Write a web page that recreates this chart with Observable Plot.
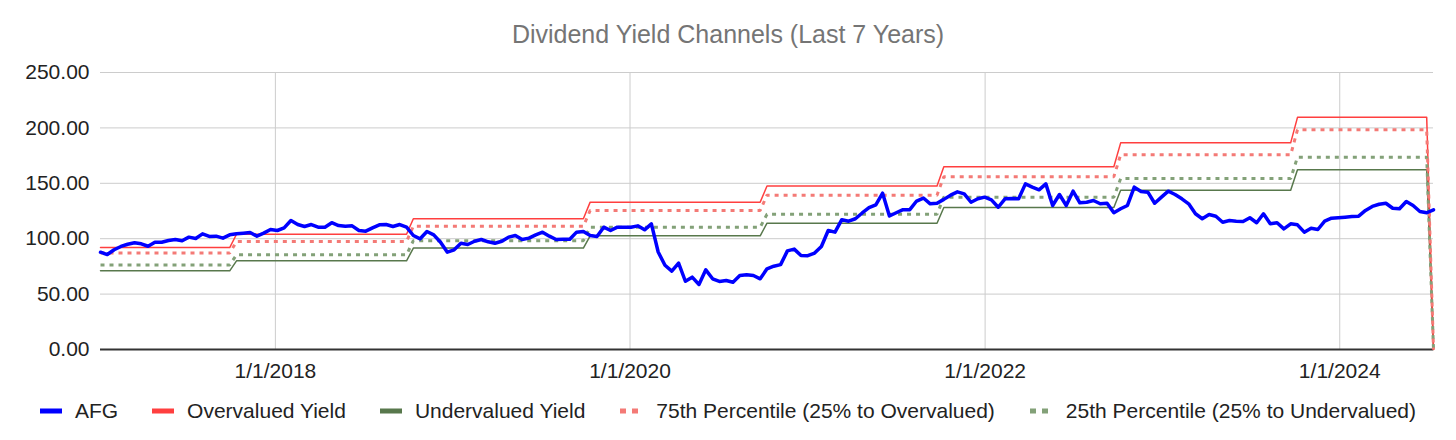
<!DOCTYPE html>
<html>
<head>
<meta charset="utf-8">
<script src="https://cdn.jsdelivr.net/npm/d3@7"></script>
<script src="https://cdn.jsdelivr.net/npm/@observablehq/plot@0.6"></script>
<style>
  html, body { margin: 0; padding: 0; background: #fff; }
  body { width: 1456px; height: 440px; overflow: hidden; font-family: "Liberation Sans", Arial, sans-serif; }
  #title { height: 50px; box-sizing: border-box; padding-top: 18px; line-height: 32px; text-align: center; font-size: 25px; color: #757575; }
  #legend { height: 50px; display: flex; justify-content: center; align-items: center; font-size: 21px; color: #222; margin-top: -4px; }
  .item { display: flex; align-items: center; margin: 0 17px; }
  .item svg { margin-right: 13px; }
</style>
</head>
<body>
<div id="title">Dividend Yield Channels (Last 7 Years)</div>
<div id="chart"></div>
<div id="legend"></div>
<script>
// ---- data (biweekly observations) ----
const startDate = "2017-01-06";
const stepDays = 14;

const afg = [
  87.8, 85.7, 90, 93, 95, 96.3, 95.4, 93.2, 96.8, 96.8, 98.4, 99.3, 98.1, 101.4, 100.2, 104.4, 102, 102.3, 100.5, 103.5,
  104.4, 105, 105.6, 102.3, 105, 108.3, 107.4, 109.8, 116.4, 112.8, 111, 112.8, 110.4, 110.4,
  114.4, 111.9, 111.3, 111.6, 107.4, 106.8, 109.8, 112.5, 112.8, 111, 112.8, 110.4, 102.9, 99.9, 106.5, 103.5,
  96.8, 87.8, 90, 95.9, 94.8, 97.7, 99.3, 97.2, 95.9, 97.7, 101.4, 102.9, 99.3, 100.5, 103.5, 105.9,
  102.3, 99.3, 99.4, 99.5, 105.9, 106.5, 102.9, 102, 110.4, 107.4, 110.4, 110.4, 110.4, 111.6, 108, 113.4,
  88, 76, 70.7, 77.9, 61.6, 65.3, 58.7, 71.9, 63.8, 61.4, 62.3, 60.7, 66.8, 67.4, 66.8, 63.8,
  72.8, 75.2, 76.6, 89, 90.6, 84.8, 84.7, 87, 93, 107.4, 105.9, 117.2, 115.8, 118, 123.2, 128, 130.6,
  141.1, 120.5, 123.4, 126.2, 126.2, 134, 136.7, 131.5, 132, 135.5, 139.3, 142.3, 140.5, 132.9, 136, 137.5,
  135.1, 128.4, 136, 136.2, 136, 149.5, 146.5, 144.1, 149.5, 130, 139.9, 130, 142.9, 132.4, 132.9, 134.5,
  131.5, 132, 123.4, 127, 130, 146.5, 142.6, 142, 132, 137.5, 142.9, 139.9, 136, 131.5, 122.5, 118,
  121.8, 120.3, 114.9, 116.4, 115.8, 115.5, 118.9, 114.4, 122.5, 113.4, 114.4, 108.9, 113.4, 112.5, 105.9, 109.5, 108.3,
  115.8, 118.5, 118.9, 119.4, 120, 120.3, 125.5, 129.1, 131.1, 132, 127.5, 127, 133.6, 130, 124.5, 123.4, 126.1
];

// yield channel levels, each valid from its period start date (last row has no channel -> 0)
const periodStarts = ["2017-01-06", "2017-10-13", "2018-10-12", "2019-10-11", "2020-10-09", "2021-10-08", "2022-10-07", "2023-10-06", "2024-07-12"];
const overvalued   = [92,   104,  118,   133,   147.5, 165,   186.5, 209.5, 0];
const pct75        = [87,   97.5, 111.3, 125.5, 139.3, 156,   175.7, 198.3, 0];
const pct25        = [76.3, 85.5, 98.2,  110.4, 122.1, 137.5, 154.3, 173.6, 0];
const undervalued  = [71,   80,   91.5,  102.6, 114,   128.2, 143.8, 162.2, 0];

const yTicks = [0, 50, 100, 150, 200, 250];
const xTickLabels = ["2018-01-01", "2020-01-01", "2022-01-01", "2024-01-01"];

const seriesNames = ["AFG", "Overvalued Yield", "Undervalued Yield", "75th Percentile (25% to Overvalued)", "25th Percentile (25% to Undervalued)"];
const seriesColors = ["#0000ff", "#ff3f3f", "#58784c", "#f47a76", "#83a178"];

// ---- build table ----
const start = new Date(startDate);
const starts = periodStarts.map(s => new Date(s));
const rows = afg.map((v, i) => {
  const date = d3.utcDay.offset(start, stepDays * i);
  let k = 0;
  starts.forEach((s, j) => { if (date >= s) k = j; });
  return { date, afg: v, over: overvalued[k], p75: pct75[k], p25: pct25[k], under: undervalued[k] };
});
const xTicks = xTickLabels.map(s => new Date(s));
const fmtDate = d => `${d.getUTCMonth() + 1}/${d.getUTCDate()}/${d.getUTCFullYear()}`;

const chart = Plot.plot({
  width: 1456,
  height: 340,
  marginLeft: 100,
  marginRight: 23,
  marginTop: 22,
  marginBottom: 41,
  style: { fontFamily: "'Liberation Sans', Arial, sans-serif", fontSize: "21px", color: "#222", background: "#fff" },
  x: { type: "utc", domain: [rows[0].date, rows[rows.length - 1].date], ticks: xTicks, tickFormat: fmtDate, tickSize: 0, tickPadding: 14, label: null },
  y: { domain: [0, 250], ticks: yTicks, tickFormat: d3.format(".2f"), tickSize: 0, tickPadding: 11, label: null },
  marks: [
    Plot.gridY(yTicks.filter(v => v > 0), { stroke: "#cccccc", strokeOpacity: 1, strokeWidth: 1 }),
    Plot.gridX(xTicks, { stroke: "#cccccc", strokeOpacity: 1, strokeWidth: 1 }),
    Plot.ruleY([0], { stroke: "#333333", strokeWidth: 2 }),
    Plot.line(rows, { x: "date", y: "under", stroke: seriesColors[2], strokeWidth: 1.5 }),
    Plot.line(rows, { x: "date", y: "over", stroke: seriesColors[1], strokeWidth: 1.5 }),
    Plot.line(rows, { x: "date", y: "p25", stroke: seriesColors[4], strokeWidth: 3, strokeDasharray: "4,5", strokeLinejoin: "miter", strokeLinecap: "butt" }),
    Plot.line(rows, { x: "date", y: "p75", stroke: seriesColors[3], strokeWidth: 3, strokeDasharray: "4,5", strokeLinejoin: "miter", strokeLinecap: "butt" }),
    Plot.line(rows, { x: "date", y: "afg", stroke: seriesColors[0], strokeWidth: 3.5 })
  ]
});
document.getElementById("chart").appendChild(chart);

// ---- legend ----
const legend = document.getElementById("legend");
seriesNames.forEach((name, i) => {
  const item = document.createElement("div");
  item.className = "item";
  const dotted = i >= 3;
  const sw = dotted
    ? `<svg width="24" height="10"><rect x="1" y="2.5" width="6" height="5" fill="${seriesColors[i]}"/><rect x="13" y="2.5" width="6" height="5" fill="${seriesColors[i]}"/></svg>`
    : `<svg width="22" height="10"><rect x="0" y="2.5" width="22" height="5" fill="${seriesColors[i]}"/></svg>`;
  item.innerHTML = sw + `<span>${name}</span>`;
  legend.appendChild(item);
});
</script>
</body>
</html>
